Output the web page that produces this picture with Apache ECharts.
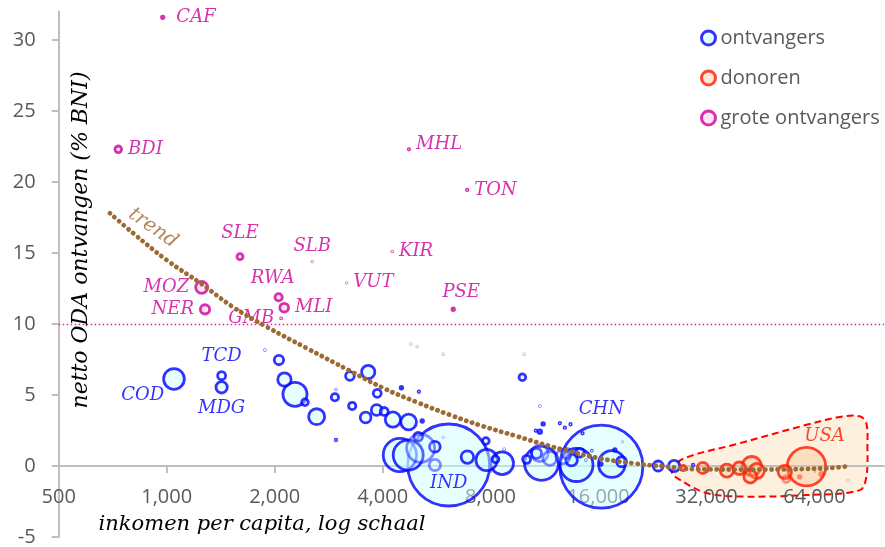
<!DOCTYPE html>
<html>
<head>
<meta charset="utf-8">
<title>netto ODA en inkomen per capita</title>
<script src="https://cdn.jsdelivr.net/npm/echarts@6.0.0/dist/echarts.min.js"></script>
<style>
  html, body { margin: 0; padding: 0; background: #ffffff; }
  #chart { width: 885px; height: 547px; }
</style>
</head>
<body>
<div id="chart"></div>
<script>
// ontvangers: inkomen per capita, ODA (% BNI), bevolking (mln), landcode
var recX = [1048, 1423, 1423, 1879, 2056, 2130, 2279, 2430, 2619, 2965, 2945, 2965, 3291, 3243, 3647, 3864, 3587, 3849, 4041, 4273, 4727, 4513, 5049, 5159, 9810, 4469, 4714, 5027, 5594, 6114, 6893, 7761, 7797, 8260, 8617, 8729, 10080, 10744, 10975, 11211, 10696, 11095, 12480, 12887, 13369, 10975, 13890, 13454, 14190, 14439, 15326, 14747, 16290, 17426, 18544, 17765, 16236, 23457, 25990, 29366];
var recY = [6.13, 6.36, 5.54, 8.17, 7.46, 6.09, 5.05, 4.49, 3.47, 5.40, 4.84, 1.83, 4.23, 6.34, 6.62, 5.12, 3.42, 3.94, 3.84, 3.27, 3.10, 5.51, 5.23, 3.17, 6.25, 0.77, 0.77, 2.06, 1.36, 0.07, 0.63, 1.76, 0.42, 0.47, 0.19, 1.18, 0.47, 0.89, 2.42, 2.96, 2.49, 0.19, 3.01, 2.70, 2.94, 4.23, 0.07, 0.42, 0.94, 2.30, 1.08, 0.42, -0.04, 0.14, 0.30, 1.13, 0.14, 0.0, 0.0, 0.07];
var recPop = [84, 12.5, 25, 0.05, 17, 35, 113, 8.8, 50, 0.05, 10.4, 0.44, 10.4, 14.8, 34.6, 12.5, 22.4, 22.4, 12.5, 45.8, 48.3, 1.22, 0.44, 1.22, 8.8, 217, 176, 14.8, 22.4, 1316, 30.6, 8.8, 88.8, 8.8, 101, 0.05, 12.5, 19.6, 2.4, 1.22, 0.44, 226, 0.44, 0.44, 0.44, 0.05, 213, 26.8, 14.8, 0.44, 0.13, 0.05, 1349, 139.6, 19.6, 1.22, 1.5, 19.6, 25, 0.44];
var recCode = ['COD', 'TCD', 'MDG', '', '', '', '', '', '', '', '', '', '', '', '', '', '', '', '', '', '', '', '', '', '', '', '', '', '', 'IND', '', '', '', '', '', '', '', '', '', '', '', '', '', '', '', '', '', '', '', '', '', '', 'CHN', '', '', '', '', '', '', ''];

// ontvangers met lichtere weergave
var recFaintX = [4797, 4994, 5902, 9925, 5902, 18660, 5105, 5594, 10975, 11705, 12724, 13029];
var recFaintY = [8.59, 8.40, 7.87, 7.87, 2.02, 1.71, 1.25, 0.07, 0.89, 0.54, 0.65, 0.89];
var recFaintPop = [0.05, 0.05, 0.05, 0.05, 0.05, 0.05, 153.5, 25, 54.6, 38.4, 38.4, 19.6];

// donoren
var donX = [27530, 31250, 36460, 39510, 42790, 42400, 44200, 52900, 60800];
var donY = [-0.14, -0.14, -0.33, -0.16, 0.0, -0.74, -0.35, -0.42, -0.04];
var donPop = [4.9, 23.7, 33, 30.6, 70.7, 33, 44, 34.6, 290];
var donCode = ['', '', '', '', '', '', '', '', 'USA'];
var donFaintX = [53400, 58200, 66950, 79400];
var donFaintY = [-0.92, -0.77, -0.58, -1.02];
var donFaintPop = [9.6, 1.22, 2.4, 0.05];

// grote ontvangers (ODA > 10% BNI)
var bigX = [975, 733, 1601, 1252, 1279, 2052, 2127, 2085, 2546, 3175, 4255, 4737, 6884, 6294];
var bigY = [31.6, 22.3, 14.74, 12.58, 11.03, 11.88, 11.15, 10.4, 14.4, 12.9, 15.1, 22.3, 19.44, 11.04];
var bigPop = [1.22, 8.8, 7, 28.2, 16.9, 10.4, 14.8, 0.2, 0.05, 0.05, 0.1, 0.44, 0.44, 1.22];
var bigCode = ['CAF', 'BDI', 'SLE', 'MOZ', 'NER', 'RWA', 'MLI', 'GMB', 'SLB', 'VUT', 'KIR', 'MHL', 'TON', 'PSE'];

// trendlijn
var trendX = [695, 806, 1000, 1238, 1530, 1900, 2456, 3243, 4006, 4975, 6160, 7627, 9450, 11700, 13000, 16100, 20000, 24750, 30000, 44200, 69000, 80300];
var trendY = [17.8, 16.4, 14.5, 12.9, 11.2, 9.8, 8.3, 6.7, 5.5, 4.5, 3.6, 2.8, 2.1, 1.4, 1.1, 0.54, 0.19, -0.05, -0.23, -0.25, -0.16, 0.0];

// omlijning donorgebied
var zoneX = [25600, 27500, 39600, 60800, 75300, 85600, 89300, 89900, 89300, 85600, 60800, 39600, 32000, 27500];
var zoneY = [-0.4, 0.5, 1.6, 2.9, 3.45, 3.5, 3.0, 1.4, -0.75, -1.7, -2.05, -2.15, -1.9, -1.1];

var xTicks = [500, 1000, 2000, 4000, 8000, 16000, 32000, 64000];
var yTicks = [-5, 0, 5, 10, 15, 20, 25, 30];

var labelPlace = {
    COD: { position: 'left', offset: [7, 16] },
    TCD: { position: 'top' },
    MDG: { position: 'bottom' },
    IND: { position: 'inside', offset: [0, 18] },
    CHN: { position: 'top' },
    USA: { position: 'top', offset: [18, 4] },
    CAF: { position: 'right', offset: [6, 0] },
    BDI: { position: 'right' },
    SLE: { position: 'top', offset: [0, -5] },
    SLB: { position: 'top' },
    MOZ: { position: 'left' },
    NER: { position: 'left' },
    RWA: { position: 'top', offset: [-6, 0] },
    MLI: { position: 'right' },
    GMB: { position: 'left' },
    VUT: { position: 'right' },
    KIR: { position: 'right' },
    MHL: { position: 'right', offset: [0, -5] },
    TON: { position: 'right' },
    PSE: { position: 'top', offset: [8, 0] }
};

function bubbles(xs, ys, pops, codes) {
    var list = xs.map(function (x, i) {
        var code = codes ? codes[i] : '';
        var item = { value: [x, ys[i], pops[i]], name: code };
        if (code) {
            var p = labelPlace[code];
            item.label = { show: true, position: p.position, offset: p.offset || [0, 0] };
        }
        return item;
    });
    // grote bollen eerst tekenen
    list.sort(function (a, b) { return b.value[2] - a.value[2]; });
    return list;
}

function bubbleSize(val) {
    return 2.26 * Math.sqrt(val[2]);
}

function codeLabel(color) {
    return {
        show: false,
        color: color,
        fontFamily: 'DejaVu Serif',
        fontStyle: 'italic',
        fontSize: 18,
        formatter: function (p) { return p.name; }
    };
}

var axisGray = { color: '#BFBFBF', width: 2 };

var chart = echarts.init(document.getElementById('chart'));

chart.setOption({
    animation: false,
    backgroundColor: '#ffffff',
    grid: { left: 58.7, right: 1, top: 11.6, bottom: 10, containLabel: false, outerBoundsMode: 'none' },
    legend: {
        data: ['ontvangers', 'donoren', 'grote ontvangers'],
        orient: 'vertical',
        left: 695,
        top: 23,
        itemWidth: 14,
        itemHeight: 14,
        itemGap: 20,
        icon: 'circle',
        itemStyle: { borderWidth: 3 },
        textStyle: { fontSize: 20, color: '#595959', fontFamily: 'Open Sans', lineHeight: 20 }
    },
    xAxis: [
        {
            // lijn en streepjes op y = 0
            type: 'log',
            logBase: 2,
            min: 500,
            max: 100000,
            z: 2,
            axisLine: { onZero: true, lineStyle: axisGray },
            axisTick: { show: true, customValues: xTicks, length: 7, lineStyle: axisGray },
            axisLabel: { show: false },
            splitLine: { show: false }
        },
        {
            // alleen de getallen onder de nullijn
            type: 'log',
            logBase: 2,
            min: 500,
            max: 100000,
            position: 'bottom',
            z: 2,
            axisLine: { show: false, onZero: false },
            axisTick: { show: false },
            axisLabel: {
                customValues: xTicks,
                margin: -50,
                color: '#595959',
                fontSize: 20,
                fontFamily: 'Open Sans',
                formatter: function (v) { return Number(v).toLocaleString('en-US'); }
            },
            splitLine: { show: false }
        }
    ],
    yAxis: {
        type: 'value',
        min: -5,
        max: 32,
        axisLine: { show: true, lineStyle: axisGray },
        axisTick: { show: true, customValues: yTicks, length: 7, lineStyle: axisGray },
        axisLabel: { customValues: yTicks, margin: 23, color: '#595959', fontSize: 20, fontFamily: 'Open Sans' },
        splitLine: { show: false }
    },
    graphic: [
        {
            type: 'text', x: 81, y: 240, rotation: Math.PI / 2,
            style: { text: 'netto ODA ontvangen (% BNI)', font: 'italic 22px "DejaVu Serif"', fill: '#000000', align: 'center', verticalAlign: 'middle' }
        },
        {
            type: 'text', x: 262, y: 525,
            style: { text: 'inkomen per capita, log schaal', font: 'italic 21px "DejaVu Serif"', fill: '#000000', align: 'center', verticalAlign: 'middle' }
        }
    ],
    series: [
        {
            type: 'custom',
            name: 'donorgebied',
            silent: true,
            clip: false,
            z: 1,
            data: [[50000, 0]],
            renderItem: function (params, api) {
                var pts = zoneX.map(function (x, i) { return api.coord([x, zoneY[i]]); });
                return {
                    type: 'polygon',
                    shape: { points: pts, smooth: 0.35 },
                    style: { fill: '#FDF0DE', stroke: '#FF0000', lineWidth: 2, lineDash: [7, 4] }
                };
            }
        },
        {
            type: 'scatter',
            name: 'ontvangers',
            z: 3,
            data: bubbles(recX, recY, recPop, recCode),
            symbolSize: bubbleSize,
            itemStyle: { color: 'rgba(205,255,255,0.6)', borderColor: '#0000FF', borderWidth: 2.8 },
            label: codeLabel('#0000FF'),
            emphasis: { disabled: true }
        },
        {
            type: 'scatter',
            name: 'ontvangers',
            z: 3,
            data: bubbles(recFaintX, recFaintY, recFaintPop),
            symbolSize: bubbleSize,
            itemStyle: { color: 'rgba(205,255,255,0.5)', borderColor: '#0000FF', borderWidth: 2.8, opacity: 0.45 },
            emphasis: { disabled: true }
        },
        {
            type: 'scatter',
            name: 'donoren',
            z: 3,
            data: bubbles(donX, donY, donPop, donCode),
            symbolSize: bubbleSize,
            itemStyle: { color: 'rgba(250,190,140,0.45)', borderColor: '#FF1A00', borderWidth: 2.8 },
            label: codeLabel('#FF1A00'),
            emphasis: { disabled: true }
        },
        {
            type: 'scatter',
            name: 'donoren',
            z: 3,
            data: bubbles(donFaintX, donFaintY, donFaintPop),
            symbolSize: bubbleSize,
            itemStyle: { color: 'rgba(250,190,140,0.45)', borderColor: '#FF1A00', borderWidth: 2.8, opacity: 0.45 },
            emphasis: { disabled: true }
        },
        {
            type: 'scatter',
            name: 'grote ontvangers',
            z: 3,
            data: bubbles(bigX, bigY, bigPop, bigCode),
            symbolSize: bubbleSize,
            itemStyle: { color: 'rgba(255,200,240,0.6)', borderColor: '#CC0099', borderWidth: 2.8 },
            label: codeLabel('#CC0099'),
            emphasis: { disabled: true },
            markLine: {
                silent: true,
                symbol: ['none', 'none'],
                label: { show: false },
                lineStyle: { color: '#DD22AA', type: [1.5, 2.5], width: 1.3 },
                data: [{ yAxis: 10 }]
            }
        },
        {
            type: 'line',
            name: 'trend',
            z: 5,
            silent: true,
            smooth: 0.4,
            symbol: 'none',
            data: trendX.map(function (x, i) { return [x, trendY[i]]; }),
            lineStyle: { color: '#9C6A33', width: 4.8, type: [0.1, 6], cap: 'round' }
        },
        {
            type: 'scatter',
            name: 'trendlabel',
            z: 5,
            silent: true,
            symbolSize: 0,
            data: [[916, 16.76]],
            label: {
                show: true,
                position: 'inside',
                rotate: -35,
                formatter: 'trend',
                color: '#9C6A33',
                fontFamily: 'DejaVu Serif',
                fontStyle: 'italic',
                fontSize: 20
            }
        }
    ]
});
</script>
</body>
</html>
